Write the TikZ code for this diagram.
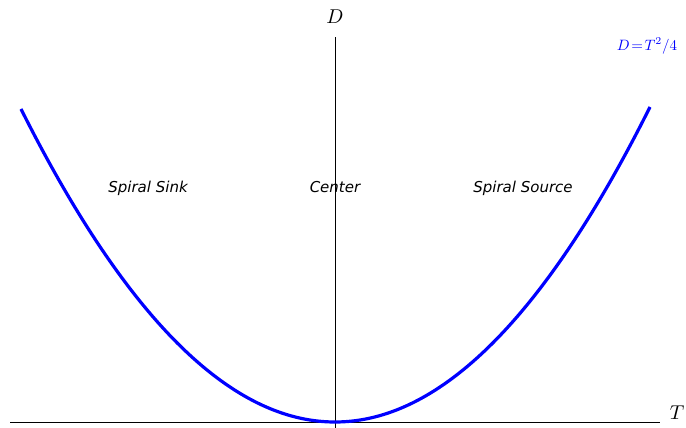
\documentclass[tikz,border=0pt]{standalone}
\usepackage{fontspec}
\newfontfamily\regionfont{DejaVu Sans}
\usepackage{tikz}
\usetikzlibrary{positioning}

\begin{document}
\begin{tikzpicture}[x=1pt,y=1pt,
every node/.style={inner sep=0pt},
region/.style={font=\regionfont\itshape\fontsize{15}{18}\selectfont,text=black,anchor=base},
axis/.style={draw=black,line width=0.8pt},
curve/.style={draw=blue,line width=3.2pt}
]
\useasboundingbox (0,0) rectangle (686,428);
\coordinate (o) at (335,6);
\coordinate (tl) at (10,6);
\coordinate (tr) at (660,6);
\coordinate (db) at (335,0);
\coordinate (dt) at (335,391);
\draw[axis] (tl) -- (tr);
\draw[axis] (db) -- (dt);
\draw[curve] plot[domain=-314:315,samples=120,smooth] ({335+\x},{6+(\x/315)*\x});
\node (dlbl) at (335,411) {\scalebox{2}{$D$}};
\node (tlbl) at (677,15) {\scalebox{2}{$T$}};
\node[text=blue] (eq) at (647,382) {\scalebox{1.5}{$D\!=\!T^2/4$}};
\node[region] (sink) at (148,235) {Spiral Sink};
\node[region] (center) at (335,235) {Center};
\node[region] (source) at (523,235) {Spiral Source};
\end{tikzpicture}
\end{document}
